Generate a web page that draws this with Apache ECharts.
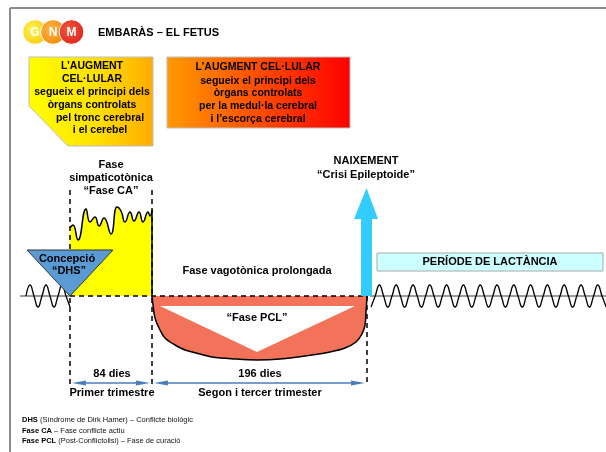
<!DOCTYPE html>
<html>
<head>
<meta charset="utf-8">
<script src="https://cdn.jsdelivr.net/npm/echarts@6/dist/echarts.min.js"></script>
<style>
html, body { margin: 0; padding: 0; background: #fff; }
#fetuschart { width: 606px; height: 452px; }
</style>
</head>
<body>
<div id="fetuschart"></div>
<script>
// x: timeline units (0 = conception), y: tonus (0 = normotonia, + sympathicotonia, - vagotonia)
const phaseEdges = [0, 82, 297];               // conception, end of 1st trimester, birth
const phaseDays = ['84 dies', '196 dies'];
const phaseNames = ['Primer trimestre', 'Segon i tercer trimester'];

const caProfile = [[0,68],[3,71],[8,56],[16,87],[20,74],[25,79],[29,70],[34,78],[41,62],[47,89],
  [51,85],[55,74],[60,84],[64,75],[69,84],[73,74],[78,84],[80,80],[82,86]];

// vagotonic phase (PCL), lower edge of the red bowl
const pclProfile = [[82,0],[83,-9],[85,-22],[90,-34],[95,-42],[105,-49],[115,-54],[130,-58],[142,-61],
  [165,-63],[187,-64],[210,-63],[242,-59],[260,-56],[275,-52],[286,-46],[292,-38],[295,-29],[296,-16],[297,0]];
const pclInner = [[90,-10],[285,-10],[187,-56]];

const dhsTriangle = [[-43,46],[43,46],[0,0]];
const birthArrow = [[291,0],[291,77],[284,77],[296.5,108],[308,77],[302,77],[302,0]];

// normotonic day/night rhythm before conception and after birth
const leftWaveStart = -44, leftWaveStep = 4;
const leftWave = [0,11,0,-11,0,11,0,-11,0,11,0,-11];
const rightWaveStart = 301, rightWaveStep = 4.2;
const rightWave = [-11,0,11,0,-11,0,11,0,-11,0,11,0,-11,0,11,0,-11,0,11,0,-11,0,11,0,-11,0,11,0,
  -11,0,11,0,-11,0,11,0,-11,0,11,0,-11,0,11,0,-11,0,11,0,-11,0,11,0,-11,0,11,0,-11];

const guideTop = 106, guideBottom = -90, dimLevel = -87;

const FONT = '"Liberation Sans", Arial, sans-serif';
let myChart = echarts.init(document.getElementById('fetuschart'));

const wavePoints = (start, step, vals) => vals.map((v, i) => [start + i * step, v]);

const polygonSeries = (pts, style, z) => ({
  type: 'custom',
  coordinateSystem: 'cartesian2d',
  silent: true,
  z: z,
  data: [pts[0]],
  renderItem: (params, api) => ({
    type: 'polygon',
    shape: { points: pts.map(p => api.coord(p)) },
    style: style
  })
});

const lineSeries = (data, style, z, smooth) => ({
  type: 'line',
  data: data,
  smooth: smooth || false,
  showSymbol: false,
  silent: true,
  z: z,
  lineStyle: style
});

const txt = (text, x, y, size, color) => ({
  type: 'text',
  z: 100,
  style: {
    text: text, x: x, y: y,
    align: 'center', verticalAlign: 'middle',
    font: 'bold ' + size + 'px ' + FONT,
    fill: color || '#000'
  }
});

// vertical dashed guides at each phase edge
let guides = [];
phaseEdges.forEach((e, i) => {
  guides.push(lineSeries([[e, i < 2 ? guideTop : 0], [e, guideBottom]],
    { color: '#000', width: 1.5, type: [5, 4] }, 5));
});

// dimension arrows between edges
let dimData = [];
for (let i = 0; i < phaseEdges.length - 1; i++) {
  dimData.push([phaseEdges[i] + 2, phaseEdges[i + 1] - 2, dimLevel]);
}

const logoCircle = (cx, c0, c1) => ({
  type: 'circle', shape: { cx: cx, cy: 32, r: 12.3 },
  style: { fill: new echarts.graphic.RadialGradient(0.4, 0.4, 0.7, [{ offset: 0, color: c0 }, { offset: 1, color: c1 }]), stroke: '#fff', lineWidth: 1 }
});

const boxText = 10.5;
let graphics = [
  { type: 'line', shape: { x1: 10, y1: 8, x2: 606, y2: 8 }, style: { stroke: '#8c8c8c', lineWidth: 2 } },
  { type: 'line', shape: { x1: 10, y1: 8, x2: 10, y2: 452 }, style: { stroke: '#8c8c8c', lineWidth: 2 } },
  // logo
  logoCircle(35, '#fff35c', '#f6c800'),
  logoCircle(53, '#ffb347', '#ef8a00'),
  logoCircle(71.5, '#f4583f', '#dc1f1a'),
  txt('G', 35, 33, 12, '#fff'),
  txt('N', 53, 33, 12, '#fff'),
  txt('M', 71.5, 33, 12, '#fff'),
  { type: 'text', z: 100, style: { text: 'EMBARÀS – EL FETUS', x: 98, y: 33, verticalAlign: 'middle', font: 'bold 11px ' + FONT, fill: '#000' } },
  // top boxes
  { type: 'polygon', shape: { points: [[29, 57], [153, 57], [153, 146], [68, 146], [29, 106]] },
    style: { fill: new echarts.graphic.LinearGradient(0, 0, 1, 0, [{ offset: 0, color: '#ffff00' }, { offset: 0.55, color: '#ffe000' }, { offset: 1, color: '#ffab00' }]), stroke: '#bdbdbd', lineWidth: 1 } },
  { type: 'rect', shape: { x: 167, y: 57, width: 183, height: 71 },
    style: { fill: new echarts.graphic.LinearGradient(0, 0, 1, 0, [{ offset: 0, color: '#ff9a00' }, { offset: 1, color: '#ff0000' }]), stroke: '#bdbdbd', lineWidth: 1 } },
  txt('L’AUGMENT', 92, 66, boxText),
  txt('CEL·LULAR', 92, 79, boxText),
  txt('segueix el principi dels', 92, 92, boxText),
  txt('òrgans controlats', 92, 105, boxText),
  txt('pel tronc cerebral', 100, 118, boxText),
  txt('i el cerebel', 100, 130, boxText),
  txt('L’AUGMENT CEL·LULAR', 258, 67, boxText),
  txt('segueix el principi dels', 258, 81, boxText),
  txt('òrgans controlats', 258, 93.5, boxText),
  txt('per la medul·la cerebral', 258, 106, boxText),
  txt('i l’escorça cerebral', 258, 119, boxText),
  // phase labels
  txt('Fase', 111, 165, 11),
  txt('simpaticotònica', 111, 178, 11),
  txt('“Fase CA”', 111, 191, 11),
  txt('NAIXEMENT', 366, 161, 11),
  txt('“Crisi Epileptoide”', 366, 175, 11),
  txt('Fase vagotònica prolongada', 257, 271, 11),
  { type: 'rect', shape: { x: 377, y: 253, width: 226, height: 18 }, style: { fill: '#ccffff', stroke: '#a8a8a8', lineWidth: 1 } },
  txt('PERÍODE DE LACTÀNCIA', 490, 262, 11),
  txt('Concepció', 67, 259, 11),
  txt('“DHS”', 69, 271, 11),
  txt('“Fase PCL”', 257, 318, 11),
  txt(phaseDays[0], 112, 374, 11),
  txt(phaseDays[1], 260, 374, 11),
  txt(phaseNames[0], 112, 393, 11),
  txt(phaseNames[1], 260, 393, 11)
];

const notes = [
  ['DHS', ' (Síndrome de Dirk Hamer) – Conflicte biològic'],
  ['Fase CA', ' – Fase conflicte actiu'],
  ['Fase PCL', ' (Post-Conflictolisi) – Fase de curació']
];
notes.forEach((n, i) => {
  graphics.push({
    type: 'text', z: 100,
    style: {
      text: '{b|' + n[0] + '}' + n[1], x: 22, y: 420 + i * 10.5, verticalAlign: 'middle',
      font: '7.5px ' + FONT, fill: '#111',
      rich: { b: { fontWeight: 'bold', fontSize: 7.5, fontFamily: FONT, fill: '#000' } }
    }
  });
});

let option = {
  animation: false,
  grid: { left: 0, right: 0, top: 0, bottom: 0, containLabel: false },
  xAxis: { type: 'value', min: -70, max: 536, show: false },
  yAxis: { type: 'value', min: -156, max: 296, show: false },
  graphic: graphics,
  series: [
    Object.assign(lineSeries(caProfile, { color: '#000', width: 1.5 }, 2, 0.5), {
      areaStyle: { color: '#ffff00', opacity: 1 }
    }),
    lineSeries([[phaseEdges[1], caProfile[caProfile.length - 1][1]], [phaseEdges[1], 0]], { color: '#000', width: 1.5 }, 4),
    Object.assign(lineSeries(pclProfile, { color: '#000', width: 1.5 }, 2, 0.35), {
      areaStyle: { color: '#f2735a', opacity: 1 }
    }),
    polygonSeries(pclInner, { fill: '#ffffff' }, 3),
    ...guides,
    lineSeries([[phaseEdges[0], 0], [phaseEdges[2], 0]], { color: '#000', width: 1.5, type: [5, 4] }, 5),
    lineSeries([[-50, 0], [0, 0]], { color: '#000', width: 0.8 }, 4),
    lineSeries([[300, 0], [536, 0]], { color: '#000', width: 0.8 }, 4),
    lineSeries(wavePoints(leftWaveStart, leftWaveStep, leftWave), { color: '#000', width: 1.3 }, 6, 0.5),
    lineSeries(wavePoints(rightWaveStart, rightWaveStep, rightWave), { color: '#000', width: 1.3 }, 6, 0.5),
    polygonSeries(dhsTriangle, { fill: '#5b9bd5', stroke: '#333', lineWidth: 1 }, 7),
    polygonSeries(birthArrow, { fill: '#33ccff' }, 7),
    {
      type: 'custom',
      coordinateSystem: 'cartesian2d',
      silent: true,
      z: 8,
      data: dimData,
      encode: { x: [0, 1], y: 2 },
      renderItem: (params, api) => {
        const a = api.coord([api.value(0), api.value(2)]);
        const b = api.coord([api.value(1), api.value(2)]);
        const c = '#4a7dbb', L = 14, W = 2.6;
        return {
          type: 'group',
          children: [
            { type: 'line', shape: { x1: a[0] + L - 2, y1: a[1], x2: b[0] - L + 2, y2: b[1] }, style: { stroke: c, lineWidth: 1.5 } },
            { type: 'polygon', shape: { points: [[a[0], a[1]], [a[0] + L, a[1] - W], [a[0] + L, a[1] + W]] }, style: { fill: c } },
            { type: 'polygon', shape: { points: [[b[0], b[1]], [b[0] - L, b[1] - W], [b[0] - L, b[1] + W]] }, style: { fill: c } }
          ]
        };
      }
    }
  ]
};

option && myChart.setOption(option);
</script>
</body>
</html>
